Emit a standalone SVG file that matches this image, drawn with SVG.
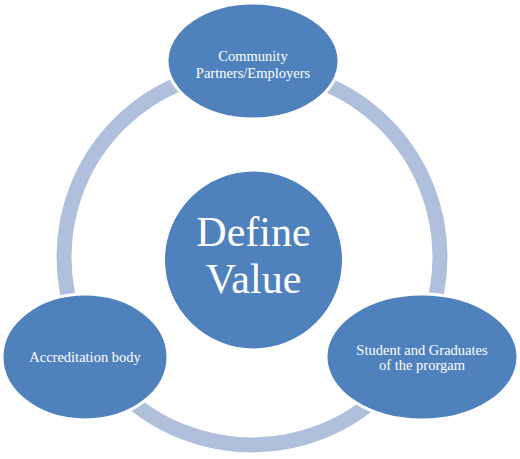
<svg xmlns="http://www.w3.org/2000/svg" width="520" height="459" viewBox="0 0 520 459">
<style>
.node{fill:#4f81bd;stroke:#ffffff;stroke-width:3}
.lbl{font-family:"Liberation Serif","Times New Roman",serif;fill:#ffffff;text-anchor:middle}
.sm{font-size:14.5px}
.big{font-size:42px}
.ring{fill:none;stroke:#b0c0dc;stroke-width:15}
</style>
<rect width="520" height="459" fill="#ffffff"/>
<g id="connectors">
<circle class="ring" cx="252" cy="257" r="188"/>
</g>
<g id="center">
<circle class="node" cx="253.5" cy="260" r="90"/>
<text class="lbl big" x="253.5" y="246">Define<tspan x="253.5" y="293">Value</tspan></text>
</g>
<g id="top">
<ellipse class="node" cx="253" cy="61" rx="86" ry="58"/>
<text class="lbl sm" x="253" y="61">Community<tspan x="253" y="78">Partners/Employers</tspan></text>
</g>
<g id="left">
<ellipse class="node" cx="85" cy="357" rx="83" ry="63"/>
<text class="lbl sm" x="85" y="362">Accreditation body</text>
</g>
<g id="right">
<ellipse class="node" cx="422" cy="357" rx="96" ry="63"/>
<text class="lbl sm" x="422" y="355">Student and Graduates<tspan x="422" y="370">of the prorgam</tspan></text>
</g>
</svg>
